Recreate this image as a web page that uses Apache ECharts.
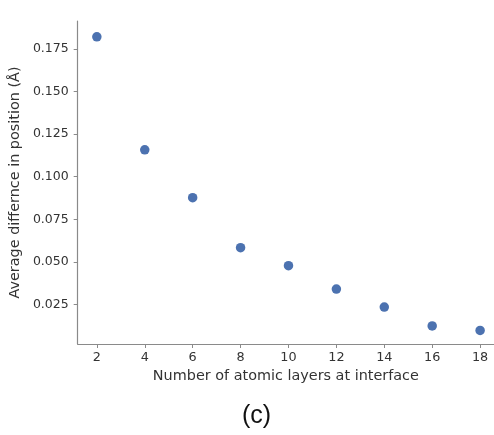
<!DOCTYPE html>
<html>
<head>
<meta charset="utf-8">
<script src="https://cdn.jsdelivr.net/npm/echarts@6/dist/echarts.min.js"></script>
<style>
  html, body { margin: 0; padding: 0; background: #ffffff; }
  #chart { width: 494px; height: 435px; }
</style>
</head>
<body>
<div id="chart"></div>
<script>
// Number of atomic layers at the interface
const layers = [2, 4, 6, 8, 10, 12, 14, 16, 18];
// Average difference in position (Å)
const avgDiff = [0.1822, 0.1158, 0.0877, 0.0583, 0.0477, 0.0340, 0.0234, 0.0123, 0.0097];
// Tick values
const xTicks = [2, 4, 6, 8, 10, 12, 14, 16, 18];
const yTicks = [0.025, 0.050, 0.075, 0.100, 0.125, 0.150, 0.175];

const axisColor = '#8a8a8a';
const textColor = '#333333';
const font = 'DejaVu Sans';

const chart = echarts.init(document.getElementById('chart'), null, { renderer: 'canvas' });
chart.setOption({
  backgroundColor: '#ffffff',
  animation: false,
  grid: { left: 77, right: 0, top: 21, bottom: 91, containLabel: false },
  xAxis: {
    type: 'value',
    min: 1.2,
    max: 18.58,
    name: 'Number of atomic layers at interface',
    nameLocation: 'middle',
    nameGap: 19,
    nameTextStyle: { fontFamily: font, fontSize: 14.4, color: textColor },
    axisLine: { show: true, lineStyle: { color: axisColor, width: 1.2 } },
    axisTick: { show: true, inside: false, length: 4, customValues: xTicks, lineStyle: { color: axisColor } },
    axisLabel: { customValues: xTicks, margin: 7, fontFamily: font, fontSize: 12.8, color: textColor },
    splitLine: { show: false }
  },
  yAxis: {
    type: 'value',
    min: 0.0017,
    max: 0.1915,
    name: 'Average differnce in position (Å)',
    nameLocation: 'middle',
    nameGap: 45,
    nameRotate: 90,
    nameTextStyle: { fontFamily: font, fontSize: 14.4, color: textColor },
    axisLine: { show: true, lineStyle: { color: axisColor, width: 1.2 } },
    axisTick: { show: true, inside: false, length: 4, customValues: yTicks, lineStyle: { color: axisColor } },
    axisLabel: {
      customValues: yTicks,
      margin: 9,
      fontFamily: font,
      fontSize: 12.5,
      color: textColor,
      formatter: v => v.toFixed(3)
    },
    splitLine: { show: false }
  },
  series: [{
    type: 'scatter',
    data: layers.map((x, i) => [x, avgDiff[i]]),
    symbol: 'circle',
    symbolSize: 9.5,
    itemStyle: { color: '#4C72B0', opacity: 1 }
  }],
  graphic: [{
    type: 'text',
    left: 242,
    top: 404,
    style: { text: '(c)', font: '25px "Liberation Sans", Arial, sans-serif', fill: '#111111' }
  }]
});
</script>
</body>
</html>
